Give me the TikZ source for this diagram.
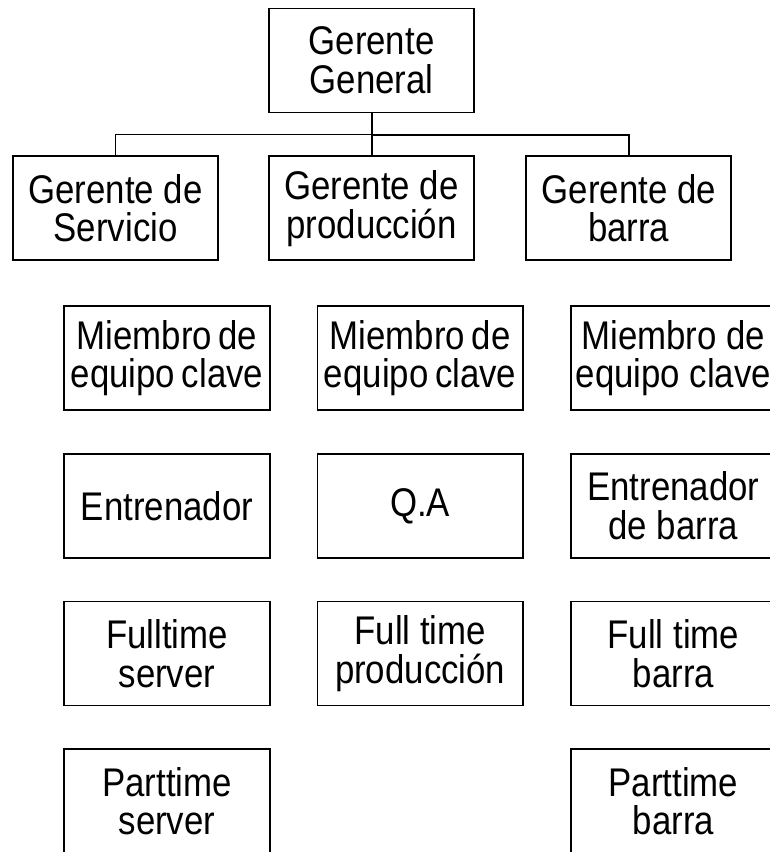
\documentclass[tikz,border=0pt]{standalone}
\usepackage{fontspec}
\setmainfont{Liberation Sans}[FakeStretch=0.87]
\usetikzlibrary{positioning}

\begin{document}
\begin{tikzpicture}[
  x=0.75pt,y=-0.75pt,
  font=\fontsize{30pt}{29pt}\selectfont,
  box/.style={draw=black,line width=1.4pt,align=center,inner sep=2pt,
              minimum width=154pt,minimum height=78pt},
  thinline/.style={draw=black,line width=0.8pt},
  thickline/.style={draw=black,line width=1.5pt}
]
\useasboundingbox (0,0) rectangle (770,852);
\node[box] (gg) at (371.5,60.5) {Gerente\\General};
\node[box,below=31.5pt of gg] (gp) {Gerente de\\producción};
\node[box,left=36.5pt of gp] (gs) {Gerente de\\Servicio};
\node[box,right=37.5pt of gp] (gb) {Gerente de\\barra};
\coordinate[below=16pt of gg.south] (bus);
\draw[thinline] (gs.north) |- (bus);
\draw[thickline] (gg.south) -- (gp.north);
\draw[thickline] (bus) -| (gb.north);

\node[box,below=33pt of gp,xshift=36.5pt] (mp) {Miembro\,de\\equipo\,clave};
\node[box,left=34.5pt of mp] (ms) {Miembro\,de\\equipo\,clave};
\node[box,right=34.5pt of mp] (mb) {Miembro de\\equipo clave};
\node[box,below=31.3pt of ms] (es) {Entrenador};
\node[box,below=31.3pt of mp] (qa) {Q.A};
\node[box,below=31.3pt of mb] (eb) {Entrenador\\de barra};
\node[box,below=31.3pt of es] (fs) {Fulltime\\server};
\node[box,below=31.3pt of qa] (fp) {Full time\\producción};
\node[box,below=31.3pt of eb] (fb) {Full time\\barra};
\node[box,below=31.3pt of fs] (ps) {Parttime\\server};
\node[box,below=31.3pt of fb] (pb) {Parttime\\barra};
\end{tikzpicture}
\end{document}
